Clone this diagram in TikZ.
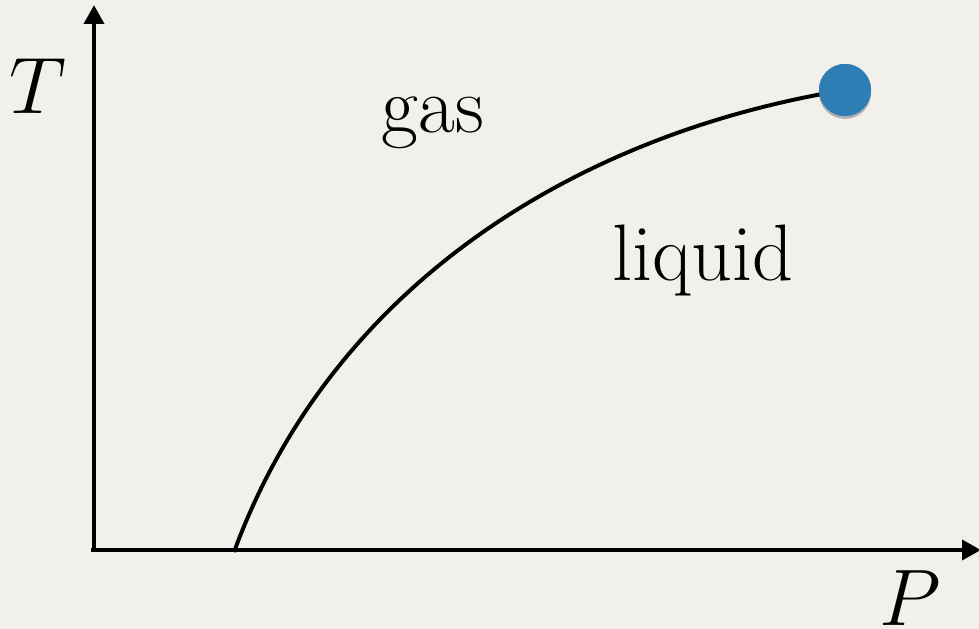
\RequirePackage{fix-cm}
\documentclass[tikz,border=0pt]{standalone}
\usepackage{amsmath}
\usepackage{xcolor}
\usepackage{tikz}
\usetikzlibrary{arrows.meta,shadows}

\definecolor{paper}{RGB}{242,240,235}
\definecolor{dotblue}{RGB}{47,125,181}

\begin{document}
\begin{tikzpicture}[
  x=0.025cm, y=-0.025cm,
  axis/.style={line width=3.2pt, -{Triangle[length=13.5pt, width=14pt]}},
  curve/.style={line width=2.8pt},
  critdot/.style={circle, fill=dotblue, minimum size=37pt, inner sep=0pt,
    drop shadow={opacity=0.35, shadow xshift=0pt, shadow yshift=-2pt}},
  lbl/.style={font=\fontsize{57}{66}\selectfont, inner sep=0pt}
]
\useasboundingbox[fill=paper] (0,0) rectangle (979,629);

\coordinate (origin) at (94,550);
\coordinate (ttip) at (94,5);
\coordinate (ptip) at (981,550);
\coordinate (melt) at (234,552);

\draw[axis] (origin) ++(0,2) -- (ttip);
\draw[axis] (origin) ++(-3,0) -- (ptip);

\node[critdot] (crit) at (845,90) {};
\draw[curve] (melt) .. controls (330,290) and (570,135) .. (crit.center);
\node[critdot] at (crit) {};

\node[lbl] (tlabel) at (38,86) {$T$};
\node[lbl] (plabel) at (910,598) {$P$};
\node[lbl, anchor=base] (gas) at (433,133) {gas};
\node[lbl, anchor=base] (liquid) at (703,280) {liquid};
\end{tikzpicture}
\end{document}
